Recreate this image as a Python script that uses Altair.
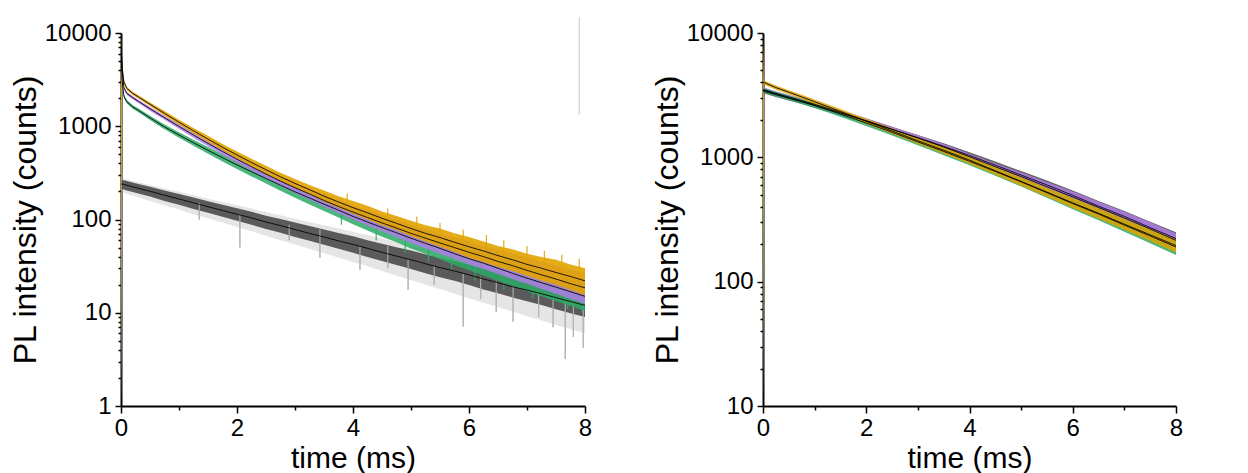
import altair as alt
import pandas as pd

# ---------------- data: left panel (time in ms, counts) ----------------
TL = [0, 0.02, 0.05, 0.1, 0.2, 0.3, 0.5, 0.75, 1.0, 1.25, 1.5, 1.75, 2.0, 2.25, 2.5, 2.75,
      3.0, 3.25, 3.5, 3.75, 4.0, 4.25, 4.5, 4.75, 5.0, 5.25, 5.5, 5.75, 6.0, 6.25, 6.5, 6.75,
      7.0, 7.25, 7.5, 7.75, 8.0]

gold_L_fit = [8000, 4300, 3000, 2550, 2258, 2060, 1717, 1374, 1105, 894, 728, 596, 492, 409, 342, 287,
              244, 209, 178, 154, 134, 118, 103, 91, 80, 71, 64, 57, 51, 46, 41, 37, 33, 30, 27, 24.5, 22]
gold_L_lo = [1, 4150, 2880, 2450, 2170, 1980, 1645, 1305, 1045, 840, 680, 552, 452, 372, 308, 258,
             218, 185, 156, 134, 115, 100, 87, 77, 66, 58, 51, 45, 39, 35, 31, 28, 25, 22, 20, 17.5, 15.5]
gold_L_hi = [9800, 4500, 3130, 2660, 2350, 2150, 1800, 1455, 1175, 960, 790, 645, 535, 447, 377, 318,
             272, 235, 205, 178, 158, 140, 122, 109, 97, 87, 80, 71, 65, 58, 52, 48, 43, 39.5, 37, 33, 30]

purple_L_fit = [7000, 4000, 2600, 2250, 2030, 1850, 1540, 1235, 995, 805, 655, 536, 442, 368, 307, 258,
                219, 188, 160, 138, 120, 105, 92, 81, 71, 63, 56, 50, 44.5, 40, 35.5, 32, 28.5, 25.5, 23, 20.5, 18.5]
purple_L_lo = [1, 3850, 2500, 2160, 1950, 1775, 1470, 1175, 940, 755, 610, 495, 405, 334, 276, 230,
               192, 163, 137, 117, 100, 86, 75, 65, 56, 49, 43, 38, 33, 29.5, 26, 23, 20.5, 18, 16, 14, 12.5]
purple_L_hi = [7000, 4150, 2700, 2340, 2110, 1925, 1610, 1300, 1055, 860, 705, 580, 482, 405, 340, 290,
               248, 215, 186, 162, 142, 126, 112, 99, 88, 79, 71, 64, 58, 52, 47, 43, 39, 35, 32, 29, 27]

green_L_fit = [6000, 3000, 2100, 1830, 1620, 1480, 1230, 985, 805, 665, 552, 460, 385, 325, 275, 233,
               198, 170, 146, 126, 108, 94, 82, 72, 63, 55.5, 49, 43, 38, 34, 30, 26.5, 23.5, 21, 18.8, 16.8, 15]
green_L_lo = [1, 2880, 2010, 1750, 1545, 1410, 1165, 928, 752, 617, 508, 420, 348, 290, 243, 204,
              171, 145, 123, 105, 89, 76, 65.5, 57, 49, 43, 37.5, 32.5, 28.5, 25, 22, 19.3, 17, 15, 13.3, 11.8, 10.5]
green_L_hi = [6000, 3120, 2190, 1910, 1695, 1550, 1295, 1045, 860, 715, 598, 502, 424, 362, 310, 265,
              228, 197, 172, 150, 130, 115, 101, 90, 80, 71, 63, 56, 50, 45, 40, 36, 32, 29, 26, 23.5, 21.5]

gray_L_fit = [240, 240, 238, 233, 224, 216, 201, 182, 166, 151, 137, 125, 114, 104, 94, 86,
              78, 71, 65, 59, 54, 49, 44.5, 40.5, 37, 33.5, 30.5, 28, 25.5, 23, 21, 19, 17.5, 16, 14.5, 13.2, 12]
gray_L_lo = [1, 212, 210, 205, 197, 190, 176, 158, 144, 130, 118, 107, 97, 88, 79, 72,
             65, 59, 53.5, 48.5, 44, 39.5, 36, 32.5, 29.5, 26.5, 24, 22, 19.8, 17.8, 16.2, 14.6, 13.3, 12.1, 10.9, 9.9, 9]
gray_L_hi = [262, 266, 264, 258, 249, 241, 225, 205, 188, 172, 157, 144, 132, 121, 110, 101,
             93, 85, 78, 71.5, 66, 60, 55, 50.5, 46.5, 42.5, 39, 36, 33, 30.5, 28, 25.5, 23.5, 21.5, 19.8, 18.3, 17]
grayhaze_L_lo = [1, 195, 193, 188, 180, 172, 158, 141, 128, 114, 103, 93, 83, 75, 67, 60,
                 54, 48.5, 43.5, 39, 35, 31.5, 28, 25, 22.5, 20, 18, 16, 14.3, 12.8, 11.5, 10.3, 9.2, 8.3, 7.4, 6.7, 6]
grayhaze_L_hi = [272, 276, 274, 268, 259, 251, 235, 215, 198, 182, 167, 154, 142, 131, 120, 111,
                 102, 94, 87, 80, 74, 68, 62.5, 57.5, 53, 49, 45, 42, 39, 36, 33, 30.5, 28.5, 26.5, 24.5, 22.5, 21]

# isolated deep noise spikes of the grey trace
spike_t = [1.35, 2.05, 2.9, 3.43, 4.12, 4.6, 4.95, 5.4, 5.9, 6.2, 6.47, 6.76, 7.2, 7.45, 7.66, 7.8, 7.97]
spike_lo = [100, 50, 60, 39, 29, 30, 17.7, 20, 7.1, 14, 10.2, 8, 9, 7, 3.2, 5.5, 4.2]
spike_hi = [150, 114, 88, 78, 52, 52, 37, 32, 26, 24, 22, 19, 17, 15, 15, 14, 12.5]

# upward noise spikes of the gold trace, downward ones of the green trace
gold_spike_t = [3.9, 4.6, 5.1, 5.5, 5.9, 6.3, 6.6, 7.0, 7.3, 7.6, 7.9]
gold_spike_lo = [140, 100, 78, 64, 53, 45, 39, 33, 29, 26, 23]
gold_spike_hi = [190, 132, 108, 92, 78, 68, 60, 52, 46, 42, 38]
green_spike_t = [3.8, 4.4, 4.9, 5.3, 5.7, 6.1, 6.6, 7.1, 7.7, 7.95]
green_spike_lo = [88, 60, 44, 35, 28, 22, 17.5, 14, 11, 10]
green_spike_hi = [118, 86, 66, 54, 44, 36, 29, 23, 17.5, 15.5]

# faint vertical stroke near the top right of the left panel
mark_t = [7.9]
mark_lo = [1330]
mark_hi = [14800]

# ---------------- data: right panel ----------------
TR = [0, 0.02, 0.25, 0.5, 0.75, 1.0, 1.5, 2.0, 2.5, 3.0, 3.5, 4.0, 4.5, 5.0, 5.5, 6.0, 6.5, 7.0, 7.5, 8.0]

gold_R_fit = [4000, 4000, 3640, 3340, 3060, 2800, 2340, 1950, 1630, 1360, 1140, 950, 780, 640, 525, 430, 355, 290, 238, 195]
gold_R_lo = [10, 3850, 3500, 3210, 2940, 2680, 2240, 1860, 1545, 1285, 1070, 885, 725, 590, 482, 392, 321, 261, 212, 172]
gold_R_hi = [10000, 4150, 3780, 3470, 3180, 2920, 2450, 2045, 1715, 1440, 1215, 1015, 840, 692, 570, 470, 390, 320, 265, 218]

green_R_fit = [3450, 3450, 3230, 3010, 2810, 2610, 2230, 1890, 1590, 1330, 1115, 930, 770, 635, 520, 425, 350, 285, 233, 190]
green_R_lo = [10, 3310, 3090, 2880, 2685, 2490, 2120, 1790, 1500, 1250, 1040, 862, 710, 582, 472, 382, 312, 252, 204, 164]
green_R_hi = [3450, 3590, 3370, 3140, 2935, 2730, 2340, 1990, 1680, 1410, 1190, 1000, 830, 688, 568, 468, 388, 318, 262, 216]

purple_R_fit = [3500, 3500, 3270, 3060, 2860, 2670, 2300, 1970, 1680, 1430, 1210, 1010, 840, 700, 580, 480, 395, 325, 265, 215]
purple_R_lo = [10, 3360, 3140, 2935, 2740, 2555, 2195, 1875, 1595, 1355, 1140, 950, 782, 646, 528, 430, 350, 285, 230, 186]
purple_R_hi = [3500, 3640, 3400, 3185, 2980, 2785, 2405, 2065, 1765, 1505, 1280, 1070, 898, 754, 632, 530, 440, 365, 300, 244]

gray_R_fit = [3400, 3400, 3190, 2990, 2800, 2620, 2270, 1960, 1680, 1440, 1225, 1035, 865, 720, 600, 495, 405, 335, 272, 222]
gray_R_lo = [10, 3260, 3060, 2870, 2685, 2510, 2170, 1865, 1595, 1360, 1152, 968, 803, 665, 548, 448, 365, 298, 238, 192]
gray_R_hi = [3400, 3540, 3320, 3110, 2915, 2730, 2370, 2055, 1765, 1515, 1295, 1100, 925, 775, 650, 540, 446, 370, 304, 250]

GOLD = "#E2A300"
PURPLE = "#B07CE6"
GREEN = "#2DAA66"
GRAY = "#4A4A4A"
HAZE = "#B4B4B4"

FONT = "Liberation Sans"


def band(t, lo, hi, fit=None):
    d = {"t": t, "lo": lo, "hi": hi}
    if fit is not None:
        d["fit"] = fit
    return pd.DataFrame(d)


def make_y_axis(decades):
    values = []
    for d in decades[:-1]:
        values += [d * k for k in range(1, 10)]
    values.append(decades[-1])
    test = "indexof([" + ",".join(str(d) for d in decades) + "], datum.value) >= 0"
    return alt.Axis(values=values, title="PL intensity (counts)",
                    labelExpr=f"{test} ? format(datum.value, 'd') : ''",
                    tickSize={"condition": {"test": test, "value": 6}, "value": 3},
                    labelPadding=4, titlePadding=2, titleFontSize=32)


def make_x_axis():
    test = "datum.value % 2 === 0"
    return alt.Axis(values=list(range(0, 9)), title="time (ms)",
                    labelExpr=f"{test} ? format(datum.value, 'd') : ''",
                    tickSize={"condition": {"test": test, "value": 7}, "value": 4},
                    labelPadding=3, titlePadding=3)


def panel(series, y_domain, decades, width, height, extra=()):
    xs = alt.Scale(domain=[0, 8], nice=False, zero=False)
    ys = alt.Scale(type="log", domain=list(y_domain), nice=False)
    xa = make_x_axis()
    ya = make_y_axis(decades)

    def X():
        return alt.X("t:Q", scale=xs, axis=xa, title="time (ms)")

    def Y(field):
        return alt.Y(f"{field}:Q", scale=ys, axis=ya, title="PL intensity (counts)")

    layers = []
    rules = list(extra)
    for df, color, op in series:
        layers.append(
            alt.Chart(df).mark_area(clip=True, color=color, opacity=op, interpolate="linear")
            .encode(x=X(), y=Y("lo"), y2="hi:Q")
        )
        # spikes belonging to this colour go right after its band
        for rdf, rcolor, rw, clip in [r for r in rules if r[1] == color or (color == GRAY and r[1] == HAZE)]:
            layers.append(
                alt.Chart(rdf).mark_rule(clip=clip, color=rcolor, strokeWidth=rw, opacity=0.9)
                .encode(x=X(), y=Y("lo"), y2="hi:Q")
            )
    for rdf, rcolor, rw, clip in [r for r in rules if r[1] not in (GOLD, GREEN, PURPLE, HAZE)]:
        layers.append(
            alt.Chart(rdf).mark_rule(clip=clip, color=rcolor, strokeWidth=rw)
            .encode(x=X(), y=Y("lo"), y2="hi:Q")
        )
    for df, color, op in series:
        if "fit" in df.columns:
            layers.append(
                alt.Chart(df).mark_line(clip=True, color="black", strokeWidth=1, opacity=0.85)
                .encode(x=X(), y=Y("fit"))
            )
    return alt.layer(*layers).properties(width=width, height=height)


spikes_df = pd.DataFrame({"t": spike_t, "lo": spike_lo, "hi": spike_hi})
gold_spikes_df = pd.DataFrame({"t": gold_spike_t, "lo": gold_spike_lo, "hi": gold_spike_hi})
green_spikes_df = pd.DataFrame({"t": green_spike_t, "lo": green_spike_lo, "hi": green_spike_hi})
artifact_df = pd.DataFrame({"t": mark_t, "lo": mark_lo, "hi": mark_hi})

left_series = [
    (band(TL, grayhaze_L_lo, grayhaze_L_hi), HAZE, 0.35),
    (band(TL, gray_L_lo, gray_L_hi, gray_L_fit), GRAY, 0.9),
    (band(TL, green_L_lo, green_L_hi, green_L_fit), GREEN, 0.85),
    (band(TL, purple_L_lo, purple_L_hi, purple_L_fit), PURPLE, 0.85),
    (band(TL, gold_L_lo, gold_L_hi, gold_L_fit), GOLD, 0.9),
]
left = panel(left_series, [1, 10000], [1, 10, 100, 1000, 10000], 464, 373,
             extra=[(spikes_df, HAZE, 1.2, True), (green_spikes_df, GREEN, 1.2, True),
                    (gold_spikes_df, GOLD, 1.2, True), (artifact_df, "#C8C8C8", 1, False)])

right_series = [
    (band(TR, gray_R_lo, gray_R_hi, gray_R_fit), GRAY, 0.85),
    (band(TR, purple_R_lo, purple_R_hi, purple_R_fit), PURPLE, 0.85),
    (band(TR, green_R_lo, green_R_hi, green_R_fit), GREEN, 0.85),
    (band(TR, gold_R_lo, gold_R_hi, gold_R_fit), GOLD, 0.85),
]
right = panel(right_series, [10, 10000], [10, 100, 1000, 10000], 413, 373)

chart = alt.hconcat(left, right, spacing=59).properties(
    padding={"left": 1, "top": 8, "right": 5, "bottom": 0}
).configure_view(stroke=None).configure_axis(
    grid=False, domainColor="black", domainWidth=2, tickColor="black", tickWidth=1.5,
    labelFont=FONT, labelFontSize=24, labelColor="black", labelFlush=False, labelOverlap=False,
    titleFont=FONT, titleFontSize=30, titleFontWeight="normal", titleColor="black"
)

chart.save("out.html", embed_options={"renderer": "svg", "actions": False})
